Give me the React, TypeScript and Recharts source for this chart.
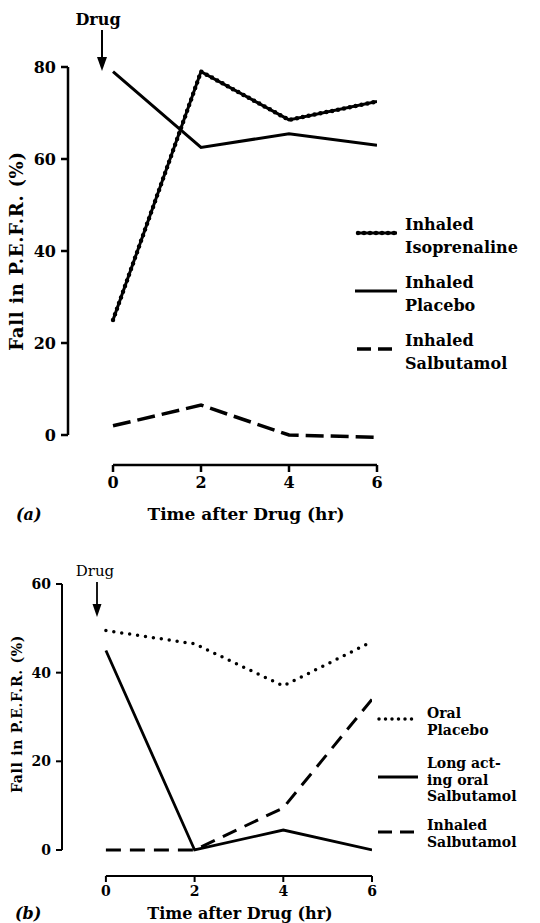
import React from 'react';
import { LineChart, Line, XAxis, YAxis, ReferenceLine, Legend } from 'recharts';

// shared x values (hours after drug)
const hours = [0, 2, 4, 6];
const hourTicks = [0, 2, 4, 6];

// panel (a)
const isoprenalineA = [25, 79, 68.5, 72.5];
const placeboA = [79, 62.5, 65.5, 63];
const salbutamolA = [2, 6.5, 0, -0.5];
const yTicksA = [0, 20, 40, 60, 80];

// panel (b)
const oralPlaceboB = [49.5, 46.5, 37, 47];
const longActingB = [45, 0, 4.5, 0];
const inhaledSalbB = [0, 0, 9.5, 34];
const yTicksB = [0, 20, 40, 60];

const legendA = [
  ['Inhaled', 'Isoprenaline'],
  ['Inhaled', 'Placebo'],
  ['Inhaled', 'Salbutamol'],
];
const legendB = [
  ['Oral', 'Placebo'],
  ['Long act-', 'ing oral', 'Salbutamol'],
  ['Inhaled', 'Salbutamol'],
];

const dataA = hours.map((h, i) => ({ hour: h, iso: isoprenalineA[i], placebo: placeboA[i], salb: salbutamolA[i] }));
const dataB = hours.map((h, i) => ({ hour: h, oral: oralPlaceboB[i], longActing: longActingB[i], inhaled: inhaledSalbB[i] }));

const FONT = '"DejaVu Serif", serif';

function LegendA() {
  const tops = [30, 88, 146];
  return (
    <svg width={190} height={180} style={{ display: 'block' }}>
      {legendA.map((lines, i) => {
        const b = tops[i];
        const ly = b + 3;
        return (
          <g key={i}>
            {i === 0 && (
              <>
                <line x1={7} x2={47} y1={ly} y2={ly} stroke="#000" strokeWidth={3} />
                <line x1={8} x2={47} y1={ly} y2={ly} stroke="#000" strokeWidth={4.5} strokeDasharray="0 6" strokeLinecap="round" />
              </>
            )}
            {i === 1 && <line x1={5} x2={47} y1={ly} y2={ly} stroke="#000" strokeWidth={3} />}
            {i === 2 && <line x1={7} x2={47} y1={ly} y2={ly} stroke="#000" strokeWidth={3.5} strokeDasharray="14 7" />}
            {lines.map((t, j) => (
              <text key={j} x={55} y={b + j * 23} fontFamily={FONT} fontWeight="bold" fontSize={16} fill="#000">{t}</text>
            ))}
          </g>
        );
      })}
    </svg>
  );
}

function LegendB() {
  const tops = [18, 68, 130];
  const lineY = [19, 77, 132];
  return (
    <svg width={170} height={160} style={{ display: 'block' }}>
      {legendB.map((lines, i) => {
        const b = tops[i];
        const ly = lineY[i];
        return (
          <g key={i}>
            {i === 0 && <line x1={9} x2={48} y1={ly} y2={ly} stroke="#000" strokeWidth={3.5} strokeDasharray="0 6.5" strokeLinecap="round" />}
            {i === 1 && <line x1={8} x2={48} y1={ly} y2={ly} stroke="#000" strokeWidth={2.8} />}
            {i === 2 && <line x1={8} x2={48} y1={ly} y2={ly} stroke="#000" strokeWidth={3} strokeDasharray="14 8" />}
            {lines.map((t, j) => (
              <text key={j} x={57} y={b + j * 16.5} fontFamily={FONT} fontWeight="bold" fontSize={14} fill="#000">{t}</text>
            ))}
          </g>
        );
      })}
    </svg>
  );
}

const tickA = { fontFamily: FONT, fontWeight: 'bold', fontSize: 16, fill: '#000' };
const tickB = { fontFamily: FONT, fontWeight: 'bold', fontSize: 14, fill: '#000' };

export default function App() {
  return (
    <div style={{ position: 'absolute', left: 0, top: 0, width: 540, height: 923, background: '#fff' }}>
      {/* (a) */}
      <div style={{ position: 'absolute', left: 0, top: 0 }}>
        <LineChart width={540} height={530} data={dataA} margin={{ top: 67, left: 0, right: 163, bottom: 0 }}>
          <XAxis
            dataKey="hour" type="number" domain={[-1.023, 6]} allowDataOverflow ticks={hourTicks} interval={0}
            height={65} axisLine={false} tickLine={{ stroke: '#000', strokeWidth: 2.5 }} tickSize={7} tickMargin={5} tick={tickA}
          />
          <YAxis
            type="number" domain={[-6.52, 80]} allowDataOverflow ticks={yTicksA} interval={0}
            width={68} axisLine={false} tickLine={{ stroke: '#000', strokeWidth: 2.5 }} tickSize={7} tickMargin={5} tick={tickA}
          />
          <ReferenceLine segment={[{ x: -1.023, y: 0 }, { x: -1.023, y: 80 }]} stroke="#000" strokeWidth={2.5} ifOverflow="visible" />
          <ReferenceLine segment={[{ x: 0, y: -6.52 }, { x: 6, y: -6.52 }]} stroke="#000" strokeWidth={2.5} ifOverflow="visible" />
          <Line dataKey="iso" stroke="#000" strokeWidth={3} dot={false} activeDot={false} isAnimationActive={false} />
          <Line dataKey="iso" stroke="#000" strokeWidth={4.5} strokeDasharray="0 6" strokeLinecap="round" dot={false} activeDot={false} isAnimationActive={false} />
          <Line dataKey="placebo" stroke="#000" strokeWidth={3} dot={false} activeDot={false} isAnimationActive={false} />
          <Line dataKey="salb" stroke="#000" strokeWidth={3.5} strokeDasharray="18 7" dot={false} activeDot={false} isAnimationActive={false} />
          <Legend layout="vertical" align="center" verticalAlign="middle" content={<LegendA />} wrapperStyle={{ left: 350, top: 200, width: 190 }} />
        </LineChart>
        <svg width={540} height={530} style={{ position: 'absolute', left: 0, top: 0, pointerEvents: 'none' }}>
          <text x={98} y={25} textAnchor="middle" fontFamily={FONT} fontWeight="bold" fontSize={16}>Drug</text>
          <line x1={102} x2={102} y1={30} y2={60} stroke="#000" strokeWidth={2} />
          <polygon points="97,57 107,57 102,71" fill="#000" />
          <text transform="translate(23,251) rotate(-90)" textAnchor="middle" fontFamily={FONT} fontWeight="bold" fontSize={18} letterSpacing={0.7}>Fall in P.E.F.R. (%)</text>
          <text x={246} y={520} textAnchor="middle" fontFamily={FONT} fontWeight="bold" fontSize={17}>Time after Drug (hr)</text>
          <text x={16} y={520} fontFamily={FONT} fontStyle="italic" fontWeight="bold" fontSize={16}>(a)</text>
        </svg>
      </div>

      {/* (b) */}
      <div style={{ position: 'absolute', left: 0, top: 530 }}>
        <LineChart width={540} height={393} data={dataB} margin={{ top: 54, left: 0, right: 168, bottom: 0 }}>
          <XAxis
            dataKey="hour" type="number" domain={[-0.99, 6]} allowDataOverflow ticks={hourTicks} interval={0}
            height={47} axisLine={false} tickLine={{ stroke: '#000', strokeWidth: 2 }} tickSize={6} tickMargin={4} tick={tickB}
          />
          <YAxis
            type="number" domain={[-5.87, 60]} allowDataOverflow ticks={yTicksB} interval={0}
            width={62} axisLine={false} tickLine={{ stroke: '#000', strokeWidth: 2 }} tickSize={6} tickMargin={5} tick={tickB}
          />
          <ReferenceLine segment={[{ x: -0.99, y: 0 }, { x: -0.99, y: 60 }]} stroke="#000" strokeWidth={2} ifOverflow="visible" />
          <ReferenceLine segment={[{ x: 0, y: -5.87 }, { x: 6, y: -5.87 }]} stroke="#000" strokeWidth={2} ifOverflow="visible" />
          <Line dataKey="oral" stroke="#000" strokeWidth={3.5} strokeDasharray="0 8" strokeLinecap="round" dot={false} activeDot={false} isAnimationActive={false} />
          <Line dataKey="longActing" stroke="#000" strokeWidth={2.8} dot={false} activeDot={false} isAnimationActive={false} />
          <Line dataKey="inhaled" stroke="#000" strokeWidth={3} strokeDasharray="15 9" dot={false} activeDot={false} isAnimationActive={false} />
          <Legend layout="vertical" align="center" verticalAlign="middle" content={<LegendB />} wrapperStyle={{ left: 370, top: 170, width: 170 }} />
        </LineChart>
        <svg width={540} height={393} style={{ position: 'absolute', left: 0, top: 0, pointerEvents: 'none' }}>
          <text x={95} y={46} textAnchor="middle" fontFamily={FONT} fontSize={15}>Drug</text>
          <line x1={97} x2={97} y1={52} y2={76} stroke="#000" strokeWidth={1.8} />
          <polygon points="92.5,74 101.5,74 97,87" fill="#000" />
          <text transform="translate(22,184) rotate(-90)" textAnchor="middle" fontFamily={FONT} fontWeight="bold" fontSize={14} letterSpacing={0.7}>Fall in P.E.F.R. (%)</text>
          <text x={240} y={389} textAnchor="middle" fontFamily={FONT} fontWeight="bold" fontSize={16}>Time after Drug (hr)</text>
          <text x={15} y={389} fontFamily={FONT} fontStyle="italic" fontWeight="bold" fontSize={16}>(b)</text>
        </svg>
      </div>
    </div>
  );
}
